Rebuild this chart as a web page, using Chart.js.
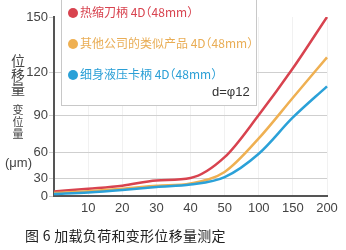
<!DOCTYPE html>
<html>
<head>
<meta charset="utf-8">
<script src="https://cdn.jsdelivr.net/npm/chart.js@4/dist/chart.umd.min.js"></script>
<style>
  html, body { margin: 0; padding: 0; background: #fff; }
  #wrap { position: relative; width: 346px; height: 250px; overflow: hidden;
          font-family: "Noto Sans CJK SC", "Noto Sans", sans-serif; }
  #chart { position: absolute; left: 0; top: 0; }
  .abs { position: absolute; white-space: nowrap; }
  #legend { position: absolute; left: 61px; top: -6px; width: 194px; height: 110px;
            border: 1px solid #c8c8c8; background: #fff; }
  .item { position: absolute; left: 6px; font-size: 12px; line-height: 16px; white-space: nowrap;
          font-feature-settings: "halt"; }
  .dot { display: inline-block; width: 10px; height: 10px; border-radius: 50%;
         margin-right: 2px; vertical-align: -1px; }
  .vt { position: absolute; color: #444; text-align: center; }
</style>
</head>
<body>
<div id="wrap">
  <canvas id="chart" width="346" height="250"></canvas>
  <div id="legend"></div>
  <div class="vt" style="left:10px; top:53px; width:16px; font-size:14px; line-height:14px;">位<br>移<br>量</div>
  <div class="vt" style="left:12px; top:103px; width:12px; font-size:11px; line-height:12px;">变<br>位<br>量</div>
  <div class="abs" style="left:5px; top:155px; font-size:13px; color:#444; font-family:'Liberation Sans', sans-serif;">(μm)</div>
  <div class="abs" style="left:25px; top:225px; font-size:14px; letter-spacing:0.3px; color:#222;">图 6 加载负荷和变形位移量测定</div>
</div>
<script>
// load (categories on the x axis)
const loads = ['0', '10', '20', '30', '40', '50', '100', '150', '200'];

// displacement in µm
const shrinkFit = [7.5, 12, 17, 26, 30, 54, 90, 122, 150];
const otherMaker = [5, 8, 12, 17, 21, 37, 71, 102, 128];
const slimHydraulic = [3.5, 6, 10, 15, 19, 31, 58, 88, 110];

const seriesNames = ['热缩刀柄 4D（48mm）', '其他公司的类似产品 4D（48mm）', '细身液压卡柄 4D（48mm）'];
const seriesColors = ['#d8434f', '#efb052', '#2ba1d8'];
const textColors = ['#d8434f', '#e9ad55', '#2a9fd6'];

const yTicks = [0, 30, 60, 90, 120, 150];
// the original y axis is not evenly spaced; where each tick sits (0..1 of the height)
const yTickPos = [0, 18 / 179, 44 / 179, 81 / 179, 124 / 179, 1];

class WarpScale extends Chart.LinearScale {
    warp(v) {
        for (let i = 1; i < yTicks.length; i++) {
            if (v <= yTicks[i] || i === yTicks.length - 1) {
                const t = (v - yTicks[i - 1]) / (yTicks[i] - yTicks[i - 1]);
                return yTickPos[i - 1] + t * (yTickPos[i] - yTickPos[i - 1]);
            }
        }
        return 0;
    }
    getPixelForValue(value) {
        return this.getPixelForDecimal(this.warp(value));
    }
    getValueForPixel(pixel) {
        const d = this.getDecimalForPixel(pixel);
        for (let i = 1; i < yTicks.length; i++) {
            if (d <= yTickPos[i] || i === yTicks.length - 1) {
                const t = (d - yTickPos[i - 1]) / (yTickPos[i] - yTickPos[i - 1]);
                return yTicks[i - 1] + t * (yTicks[i] - yTicks[i - 1]);
            }
        }
        return 0;
    }
}
WarpScale.id = 'warp';
WarpScale.defaults = Chart.LinearScale.defaults;
Chart.register(WarpScale);

// legend box
const legend = document.getElementById('legend');
const rows = [9, 40, 71];
seriesNames.forEach((name, i) => {
    const el = document.createElement('div');
    el.className = 'item';
    el.style.top = rows[i] + 'px';
    el.style.color = textColors[i];
    el.innerHTML = '<span class="dot" style="background:' + seriesColors[i] + '"></span>' + name;
    legend.appendChild(el);
});
const note = document.createElement('div');
note.className = 'item';
note.style.left = '150px';
note.style.top = '89px';
note.style.fontSize = '13px';
note.style.color = '#333';
note.style.fontFamily = "'Liberation Sans', sans-serif";
note.textContent = 'd=φ12';
legend.appendChild(note);

const values = [shrinkFit, otherMaker, slimHydraulic];
const ctx = document.getElementById('chart').getContext('2d');
new Chart(ctx, {
    type: 'line',
    data: {
        labels: loads,
        datasets: values.map((v, i) => ({
            label: seriesNames[i],
            data: v,
            borderColor: seriesColors[i],
            borderWidth: 2.5,
            pointRadius: 0,
            cubicInterpolationMode: 'monotone',
            fill: false,
        })).reverse(),
    },
    options: {
        responsive: false,
        animation: false,
        layout: { padding: { left: 0, right: 19, top: 17, bottom: 34 } },
        plugins: { legend: { display: false }, tooltip: { enabled: false } },
        scales: {
            x: {
                type: 'category',
                offset: false,
                grid: { color: '#f1f1f1', drawTicks: false },
                border: { color: '#555', width: 2 },
                ticks: {
                    padding: 5,
                    color: '#444',
                    font: { family: 'Liberation Sans', size: 13 },
                    maxRotation: 0,
                    autoSkip: false,
                    callback: (v, i) => (i === 0 ? '' : loads[i]),
                },
                afterFit: (s) => { s.height = 20; },
            },
            y: {
                type: 'warp',
                min: 0,
                max: 150,
                afterBuildTicks: (s) => { s.ticks = yTicks.map((v) => ({ value: v })); },
                grid: {
                    color: (c) => (c.tick && (c.tick.value === 0 || c.tick.value === 150) ? 'rgba(0,0,0,0)' : '#cfcfcf'),
                    tickLength: 5,
                    tickColor: '#cfcfcf',
                },
                border: { color: '#555', width: 2 },
                ticks: {
                    padding: 1,
                    color: '#444',
                    font: { family: 'Liberation Sans', size: 13 },
                },
                afterFit: (s) => { s.width = 54; },
            },
        },
    },
});
</script>
</body>
</html>
